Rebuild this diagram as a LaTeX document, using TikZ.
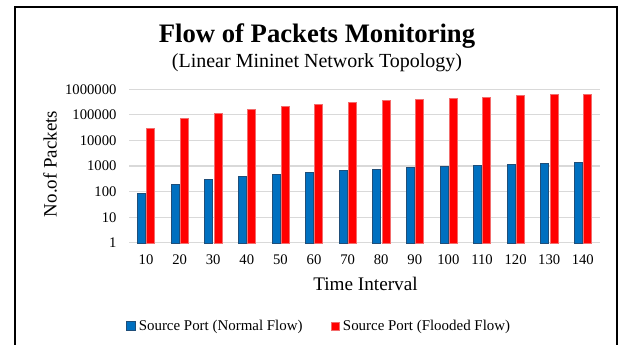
\documentclass[tikz,border=0pt]{standalone}
\usepackage{fontspec}
\setmainfont{Liberation Serif}
\definecolor{normalblue}{HTML}{0070C0}
\definecolor{normaledge}{HTML}{1F4E79}
\definecolor{floodred}{HTML}{FF0000}
\definecolor{floodedge}{HTML}{F26D6D}
\definecolor{gridgray}{HTML}{D9D9D9}
\begin{document}
\begin{tikzpicture}[x=0.75pt,y=-0.75pt,
  frameline/.style={line width=1.5pt,black},
  gridline/.style={line width=0.8pt,gridgray},
  normalbar/.style={fill=normalblue,draw=normaledge,line width=0.4pt},
  floodbar/.style={fill=floodred,draw=floodedge,line width=0.3pt},
  titletext/.style={font=\fontsize{20}{24}\selectfont\bfseries,inner sep=0pt},
  subtitletext/.style={font=\fontsize{15}{18}\selectfont,inner sep=0pt},
  ytick/.style={font=\fontsize{11}{13}\selectfont,inner sep=0pt,anchor=east},
  xtick/.style={font=\fontsize{11}{13}\selectfont,inner sep=0pt,anchor=base},
  axistitle/.style={font=\fontsize{14.2}{17}\selectfont,inner sep=0pt},
  legendtext/.style={font=\fontsize{11.2}{13}\selectfont,inner sep=0pt,anchor=base west},
  ]
\useasboundingbox (0,0) rectangle (619,344);
\clip (0,0) rectangle (619,344);

% outer frame (its bottom edge lies below the page)
\draw[frameline] (15,360) -- (15,7) -- (617,7) -- (617,360);

% titles
\node[titletext,anchor=base] (title) at (317,42.7) {Flow of Packets Monitoring};
\node[subtitletext,anchor=base] (subtitle) at (317,67.5) {(Linear Mininet Network Topology)};

% logarithmic value axis: one decade every 25.6 units, 1 at y=242.8
\foreach \k/\lab in {0/1,1/10,2/100,3/1000,4/10000,5/100000,6/1000000}{
  \pgfmathsetmacro\gy{242.8-25.6*\k}
  \draw[gridline] (129,\gy) -- (600,\gy);
  \node[ytick] (ylab\k) at (116.7,\gy) {\lab};
}

% bars: interval / log10(normal flow) / log10(flooded flow)
\foreach \i/\t/\b/\r in {
   1/10/1.93/4.47,  2/20/2.27/4.88,  3/30/2.48/5.08,  4/40/2.58/5.22,
   5/50/2.67/5.35,  6/60/2.76/5.43,  7/70/2.83/5.51,  8/80/2.89/5.56,
   9/90/2.96/5.61, 10/100/3.00/5.65, 11/110/3.03/5.70, 12/120/3.07/5.76,
  13/130/3.11/5.80, 14/140/3.15/5.81}{
  \pgfmathsetmacro\c{146+33.6*(\i-1)}
  \draw[normalbar] ({\c-8.6},242.8) rectangle ({\c-0.5},{242.8-25.6*\b});
  \draw[floodbar]  ({\c+0.5},242.8) rectangle ({\c+8.6},{242.8-25.6*\r});
  \node[xtick] (xlab\i) at (\c,264.5) {\t};
}

% axis titles
\node[axistitle,rotate=90] (ytitle) at (50,164) {No.of Packets};
\node[axistitle,font=\fontsize{14.4}{17}\selectfont] (xtitle) at (365.5,283.5) {Time Interval};

% legend
\draw[normalbar] (126.7,321.7) rectangle (135,330);
\node[legendtext] (legnormal) at (138.5,330.5) {Source Port (Normal Flow)};
\draw[floodbar] (331,321.7) rectangle (339.3,330);
\node[legendtext] (legflood) at (342.7,330.5) {Source Port (Flooded Flow)};
\end{tikzpicture}
\end{document}
